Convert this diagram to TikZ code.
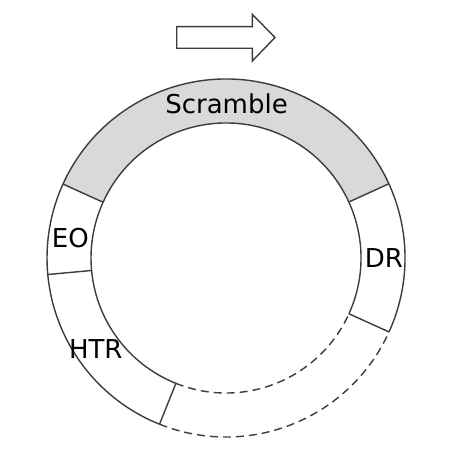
\documentclass[tikz,border=0pt]{standalone}
\usepackage{fontspec}
\setmainfont{DejaVu Sans}
\definecolor{ringline}{HTML}{3C3C3C}
\definecolor{ringfill}{HTML}{D9D9D9}

\begin{document}
\begin{tikzpicture}[
    x=1pt, y=1pt,
    ring line/.style={line width=1.4pt, draw=ringline},
    ring dash/.style={ring line, dash pattern=on 8pt off 5pt},
    seg label/.style={inner sep=0pt, font=\fontsize{26}{30}\selectfont, text=black}
]
\useasboundingbox (-226,-202) rectangle (234,258);

% Scramble: grey band across the top of the ring
\fill[ringfill] (24.5:179) arc[start angle=24.5, end angle=155.6, radius=179]
    -- (155.6:135) arc[start angle=155.6, end angle=24.5, radius=135] -- cycle;

% solid part of the ring, then the open (dashed) part
\draw[ring line] (-24.4:179) arc[start angle=-24.4, end angle=248.2, radius=179];
\draw[ring line] (-24.4:135) arc[start angle=-24.4, end angle=248.2, radius=135];
\draw[ring dash] (248.2:179) arc[start angle=248.2, end angle=335.6, radius=179];
\draw[ring dash] (248.2:135) arc[start angle=248.2, end angle=335.6, radius=135];

% segment borders
\foreach \a in {24.5, 155.6, 185.3, 248.2, -24.4}
    \draw[ring line] (\a:135) -- (\a:179);

% direction arrow
\draw[ring line, fill=white] (-49.3,231.3) -- (26.3,231.3) -- (26.3,243.7) -- (49,220.5)
    -- (26.3,197) -- (26.3,209.7) -- (-49.3,209.7) -- cycle;

% labels
\node[seg label] (scramble) at (0.5,154.5) {Scramble};
\node[seg label] (eo)  at (-155.7,20.3) {EO};
\node[seg label] (dr)  at (158,0)       {DR};
\node[seg label] (htr) at (-130.2,-91)  {HTR};

\end{tikzpicture}
\end{document}
